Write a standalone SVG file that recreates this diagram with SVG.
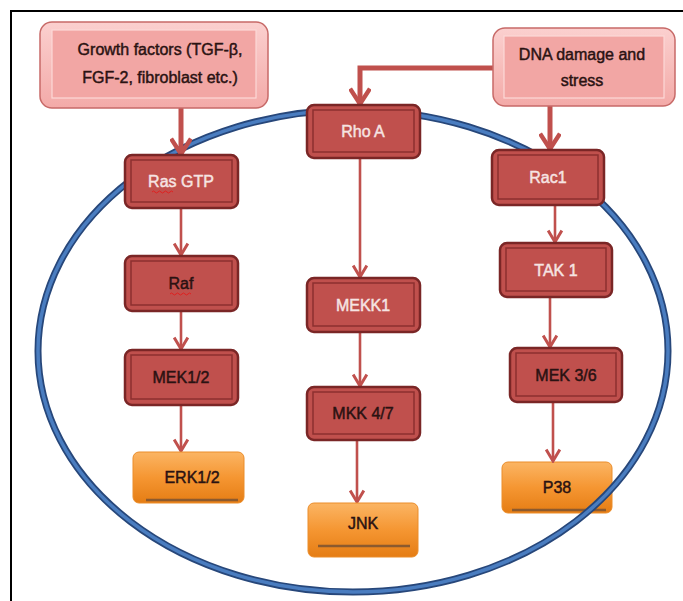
<svg xmlns="http://www.w3.org/2000/svg" width="683" height="601" viewBox="0 0 683 601">
<defs>
<linearGradient id="pinkG" x1="0" y1="0" x2="0" y2="1">
<stop offset="0" stop-color="#fbd0cf"/>
<stop offset="1" stop-color="#f3aaa8"/>
</linearGradient>
<linearGradient id="orangeG" x1="0" y1="0" x2="0" y2="1">
<stop offset="0" stop-color="#fbb564"/>
<stop offset="0.5" stop-color="#f59632"/>
<stop offset="1" stop-color="#e57d14"/>
</linearGradient>
<marker id="ah" markerUnits="userSpaceOnUse" markerWidth="16" markerHeight="16" viewBox="0 0 12 14" refX="11" refY="7" orient="auto">
<path d="M1,1 L11,7 L1,13" fill="none" stroke="#c0504d" stroke-width="2.6" stroke-linejoin="miter"/>
</marker>
<marker id="ahBig" markerUnits="userSpaceOnUse" markerWidth="22" markerHeight="22" viewBox="0 0 16 20" refX="15" refY="10" orient="auto">
<path d="M1,1 L15,10 L1,19" fill="none" stroke="#c0504d" stroke-width="4" stroke-linejoin="miter"/>
</marker>
</defs>
<style>
.frame{stroke:#000;stroke-width:2;fill:none}
.pinkO{fill:url(#pinkG);stroke:#c76a68;stroke-width:1.5}
.pinkI{fill:#f2a6a4;stroke:#fcd9d8;stroke-width:1.2}
.redO{fill:#c0504d;stroke:#7a2626;stroke-width:2.5}
.redI{fill:none;stroke:#8c2f2f;stroke-width:1.5}
.orO{fill:url(#orangeG);stroke:#eb8d2a;stroke-width:1}
.orL{stroke:#8c5a2e;stroke-width:2.5}
.t{font-family:"Liberation Sans","Arial",sans-serif;font-size:16px;text-anchor:middle;stroke-width:0.45}
.dk{fill:#2a1212;stroke:#2a1212}
.lt{fill:#f6e4e3;stroke:#f6e4e3}
.conn{stroke:#c0504d;stroke-width:2.6;fill:none}
.connB{stroke:#c0504d;stroke-width:5;fill:none}
.sq{stroke:#e02020;stroke-width:1;fill:none}
</style>

<path class="frame" d="M11,601 L11,11 L683,11"/>

<g id="P38">
<rect class="orO" x="502" y="462" width="110" height="51" rx="6"/>
<line class="orL" x1="512" y1="510" x2="606" y2="510"/>
<text class="t dk" x="557" y="493">P38</text>
</g>

<g id="membrane">
<ellipse cx="353" cy="351" rx="315" ry="241" fill="none" stroke="#27477a" stroke-width="7"/>
<ellipse cx="353" cy="351" rx="315" ry="241" fill="none" stroke="#4a7dc0" stroke-width="3.5"/>
</g>

<g id="connectors">
<line class="connB" x1="181" y1="108" x2="181" y2="154" marker-end="url(#ahBig)"/>
<polyline class="connB" points="493,68 360,68 360,104" marker-end="url(#ahBig)"/>
<line class="connB" x1="550" y1="106" x2="550" y2="149" marker-end="url(#ahBig)"/>
<line class="conn" x1="181" y1="208" x2="181" y2="255" marker-end="url(#ah)"/>
<line class="conn" x1="181" y1="311" x2="181" y2="349" marker-end="url(#ah)"/>
<line class="conn" x1="181" y1="405" x2="181" y2="451" marker-end="url(#ah)"/>
<line class="conn" x1="360" y1="158" x2="360" y2="277" marker-end="url(#ah)"/>
<line class="conn" x1="360" y1="332" x2="360" y2="386" marker-end="url(#ah)"/>
<line class="conn" x1="357" y1="440" x2="357" y2="502" marker-end="url(#ah)"/>
<line class="conn" x1="555" y1="205" x2="555" y2="242" marker-end="url(#ah)"/>
<line class="conn" x1="550" y1="297" x2="550" y2="347" marker-end="url(#ah)"/>
<line class="conn" x1="553" y1="402" x2="553" y2="461" marker-end="url(#ah)"/>
</g>

<g id="growth">
<rect class="pinkO" x="40" y="22" width="228" height="86" rx="12"/>
<rect class="pinkI" x="52" y="30" width="204" height="68"/>
<text class="t dk" x="160" y="55">Growth factors (TGF-β,</text>
<text class="t dk" x="160" y="83">FGF-2, fibroblast etc.)</text>
</g>

<g id="dna">
<rect class="pinkO" x="493" y="28" width="182" height="78" rx="12"/>
<rect class="pinkI" x="504" y="36" width="160" height="62"/>
<text class="t dk" x="582" y="60">DNA damage and</text>
<text class="t dk" x="582" y="86">stress</text>
</g>

<g id="rasgtp">
<rect class="redO" x="125" y="155" width="113" height="53" rx="7"/>
<rect class="redI" x="131" y="160" width="101" height="42"/>
<text class="t lt" x="181" y="187">Ras GTP</text>
<path class="sq" d="M152,192 q1.5,-2 3,0 t3,0 t3,0 t3,0 t3,0 t3,0 t3,0"/>
</g>

<g id="raf">
<rect class="redO" x="125" y="256" width="113" height="55" rx="7"/>
<rect class="redI" x="131" y="261" width="101" height="44"/>
<text class="t dk" x="181" y="289">Raf</text>
<path class="sq" d="M170,294 q1.5,-2 3,0 t3,0 t3,0 t3,0 t3,0 t3,0 t3,0"/>
</g>

<g id="mek12">
<rect class="redO" x="125" y="350" width="113" height="55" rx="7"/>
<rect class="redI" x="131" y="355" width="101" height="44"/>
<text class="t dk" x="181" y="383">MEK1/2</text>
</g>

<g id="erk12">
<rect class="orO" x="133" y="452" width="111" height="51" rx="6"/>
<line class="orL" x1="146" y1="500" x2="238" y2="500"/>
<text class="t dk" x="192" y="483">ERK1/2</text>
</g>

<g id="rhoa">
<rect class="redO" x="307" y="105" width="113" height="53" rx="7"/>
<rect class="redI" x="313" y="110" width="101" height="42"/>
<text class="t lt" x="363" y="137">Rho A</text>
</g>

<g id="mekk1">
<rect class="redO" x="307" y="278" width="113" height="54" rx="7"/>
<rect class="redI" x="313" y="283" width="101" height="43"/>
<text class="t lt" x="363" y="311">MEKK1</text>
</g>

<g id="mkk47">
<rect class="redO" x="307" y="387" width="113" height="53" rx="7"/>
<rect class="redI" x="313" y="392" width="101" height="42"/>
<text class="t dk" x="363" y="419">MKK 4/7</text>
</g>

<g id="jnk">
<rect class="orO" x="308" y="503" width="110" height="54" rx="6"/>
<line class="orL" x1="318" y1="546" x2="410" y2="546"/>
<text class="t dk" x="363" y="529">JNK</text>
</g>

<g id="rac1">
<rect class="redO" x="492" y="150" width="112" height="55" rx="7"/>
<rect class="redI" x="498" y="155" width="100" height="44"/>
<text class="t lt" x="548" y="183">Rac1</text>
</g>

<g id="tak1">
<rect class="redO" x="500" y="243" width="112" height="54" rx="7"/>
<rect class="redI" x="506" y="248" width="100" height="43"/>
<text class="t lt" x="556" y="276">TAK 1</text>
</g>

<g id="mek36">
<rect class="redO" x="510" y="348" width="112" height="54" rx="7"/>
<rect class="redI" x="516" y="353" width="100" height="43"/>
<text class="t dk" x="566" y="381">MEK 3/6</text>
</g>
</svg>
